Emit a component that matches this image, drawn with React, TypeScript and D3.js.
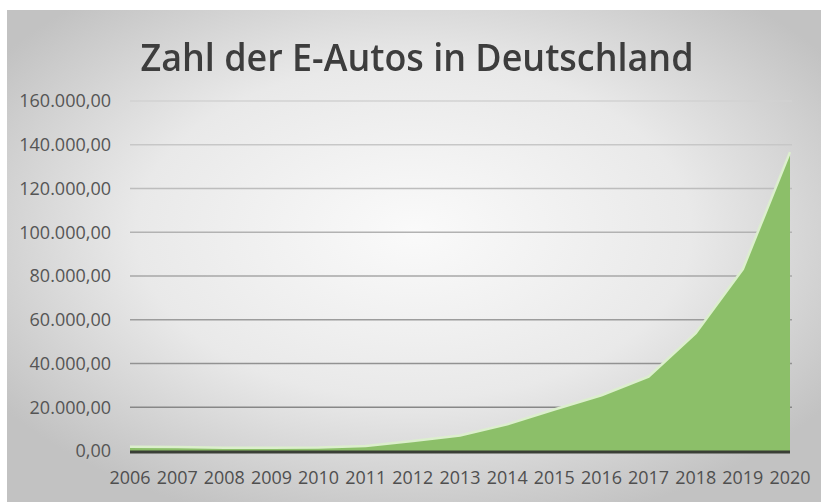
import { useEffect, useRef } from "react";
import * as d3 from "d3";

const years = [
  "2006", "2007", "2008", "2009", "2010", "2011", "2012", "2013",
  "2014", "2015", "2016", "2017", "2018", "2019", "2020",
];
const cars = [
  1931, 1790, 1436, 1452, 1588, 2307, 4541, 7114, 12156, 18948, 25502,
  34022, 53861, 83175, 136617,
];
const yTicks = [0, 20000, 40000, 60000, 80000, 100000, 120000, 140000, 160000];
const title = "Zahl der E-Autos in Deutschland";

const W = 821;
const H = 502;

export default function App() {
  const svgRef = useRef<SVGSVGElement>(null);

  useEffect(() => {
    if (!svgRef.current) return;
    const svg = d3.select(svgRef.current);
    svg.selectAll("*").remove();

    const defs = svg.append("defs");
    const bg = defs
      .append("radialGradient")
      .attr("id", "bgGrad")
      .attr("cx", "50%")
      .attr("cy", "45%")
      .attr("r", "62%");
    bg.append("stop").attr("offset", "0%").attr("stop-color", "#fafafa");
    bg.append("stop").attr("offset", "55%").attr("stop-color", "#e9e9e9");
    bg.append("stop").attr("offset", "100%").attr("stop-color", "#c2c2c2");

    const blur = defs.append("filter").attr("id", "soft");
    blur.append("feGaussianBlur").attr("stdDeviation", 0.6);

    svg
      .append("rect")
      .attr("x", 7)
      .attr("y", 10)
      .attr("width", W - 7)
      .attr("height", H - 10)
      .attr("fill", "url(#bgGrad)");

    const x = d3
      .scalePoint<string>()
      .domain(years)
      .range([130, 790]);
    const y = d3.scaleLinear().domain([0, 160000]).range([451, 101]);

    const gridColor = d3.interpolateRgb("#d2d2d2", "#7c7c7c");
    svg
      .append("g")
      .selectAll("line")
      .data(yTicks.filter((t) => t > 0))
      .enter()
      .append("line")
      .attr("x1", 130)
      .attr("x2", 792)
      .attr("y1", (d) => y(d))
      .attr("y2", (d) => y(d))
      .attr("stroke", (d) => gridColor(1 - d / 160000))
      .attr("stroke-width", 1.5);

    const area = d3
      .area<number>()
      .x((_, i) => x(years[i]) as number)
      .y0(y(0))
      .y1((d) => y(d));
    const top = d3
      .line<number>()
      .x((_, i) => x(years[i]) as number)
      .y((d) => y(d));

    svg
      .append("path")
      .datum(cars)
      .attr("d", area)
      .attr("fill", "#8cbf69")
      .attr("filter", "url(#soft)");
    svg
      .append("path")
      .datum(cars)
      .attr("d", top)
      .attr("fill", "none")
      .attr("stroke", "#dcefcd")
      .attr("stroke-width", 2.5)
      .attr("filter", "url(#soft)");

    svg
      .append("line")
      .attr("x1", 130)
      .attr("x2", 790)
      .attr("y1", y(0) + 1)
      .attr("y2", y(0) + 1)
      .attr("stroke", "#3a3f36")
      .attr("stroke-width", 3);

    const fmt = (v: number) =>
      d3
        .format(",.2f")(v)
        .replace(/,/g, "#")
        .replace(".", ",")
        .replace(/#/g, ".");

    svg
      .append("g")
      .selectAll("text")
      .data(yTicks)
      .enter()
      .append("text")
      .attr("x", 111)
      .attr("y", (d) => y(d))
      .attr("dy", "0.35em")
      .attr("text-anchor", "end")
      .attr("font-family", "'Open Sans', sans-serif")
      .attr("font-size", 18)
      .attr("fill", "#555555")
      .text((d) => fmt(d));

    svg
      .append("g")
      .selectAll("text")
      .data(years)
      .enter()
      .append("text")
      .attr("x", (d) => x(d) as number)
      .attr("y", 484)
      .attr("text-anchor", "middle")
      .attr("font-family", "'Open Sans', sans-serif")
      .attr("font-size", 18)
      .attr("textLength", 41)
      .attr("lengthAdjust", "spacingAndGlyphs")
      .attr("fill", "#4f4f4f")
      .text((d) => d);

    svg
      .append("text")
      .attr("x", 417)
      .attr("y", 71)
      .attr("text-anchor", "middle")
      .attr("font-family", "'Open Sans', sans-serif")
      .attr("font-weight", 600)
      .attr("font-size", 38)
      .attr("textLength", 553)
      .attr("lengthAdjust", "spacingAndGlyphs")
      .attr("fill", "#3c3c3c")
      .attr("filter", "url(#soft)")
      .text(title);
  }, []);

  return (
    <svg
      ref={svgRef}
      width={W}
      height={H}
      viewBox={`0 0 ${W} ${H}`}
      style={{ position: "absolute", left: 0, top: 0, background: "#ffffff" }}
    />
  );
}
